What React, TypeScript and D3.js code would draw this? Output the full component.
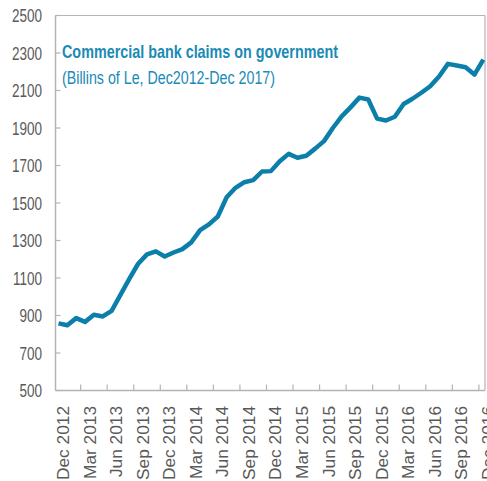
import * as d3 from 'd3'

// monthly observations, Dec 2012 .. Dec 2016 (billions of Le)
const months = [
  'Dec 2012', 'Jan 2013', 'Feb 2013', 'Mar 2013', 'Apr 2013', 'May 2013', 'Jun 2013',
  'Jul 2013', 'Aug 2013', 'Sep 2013', 'Oct 2013', 'Nov 2013', 'Dec 2013',
  'Jan 2014', 'Feb 2014', 'Mar 2014', 'Apr 2014', 'May 2014', 'Jun 2014',
  'Jul 2014', 'Aug 2014', 'Sep 2014', 'Oct 2014', 'Nov 2014', 'Dec 2014',
  'Jan 2015', 'Feb 2015', 'Mar 2015', 'Apr 2015', 'May 2015', 'Jun 2015',
  'Jul 2015', 'Aug 2015', 'Sep 2015', 'Oct 2015', 'Nov 2015', 'Dec 2015',
  'Jan 2016', 'Feb 2016', 'Mar 2016', 'Apr 2016', 'May 2016', 'Jun 2016',
  'Jul 2016', 'Aug 2016', 'Sep 2016', 'Oct 2016', 'Nov 2016', 'Dec 2016',
]

const claims = [
  858, 848, 886, 866, 904, 895, 925,
  1010, 1095, 1176, 1226, 1242, 1215,
  1236, 1254, 1290, 1355, 1386, 1428,
  1531, 1581, 1611, 1622, 1668, 1670,
  1723, 1762, 1741, 1752, 1790, 1830,
  1900, 1962, 2010, 2062, 2052, 1950,
  1940, 1960, 2028, 2056, 2088, 2123,
  2175, 2242, 2233, 2224, 2185, 2265,
]

const yTicks = [500, 700, 900, 1100, 1300, 1500, 1700, 1900, 2100, 2300, 2500]

const title = 'Commercial bank claims on government'
const subtitle = '(Billins of Le, Dec2012-Dec 2017)'

const W = 487
const H = 481
const left = 55.5
const right = 485
const top = 15.5
const bottom = 390.5

const axisColor = '#b4b4b4'
const labelColor = '#595959'
const lineColor = '#0b7fa9'
const titleColor = '#1a8ab6'
const font = '"Liberation Sans", Arial, sans-serif'

export default function App() {
  const x = d3.scalePoint<string>().domain(months).range([58.5, 483.3])
  const y = d3.scaleLinear().domain([500, 2500]).range([bottom, top])
  const step = x.step()

  const line = d3.line<number>()
    .x((_, i) => x(months[i]) as number)
    .y(d => y(d))

  // ticks sit between categories, every 3 months
  const tickIdx = d3.range(3, months.length, 3)
  const labelIdx = d3.range(0, months.length, 3)

  return (
    <svg width={W} height={H} style={{ position: 'absolute', left: 0, top: 0, background: '#fff' }}>
      {/* frame */}
      <line x1={left} x2={right} y1={top} y2={top} stroke={axisColor} strokeWidth={1.2} />
      <line x1={right} x2={right} y1={top} y2={bottom} stroke={axisColor} strokeWidth={1.2} />
      <line x1={left} x2={left} y1={top} y2={bottom} stroke={axisColor} strokeWidth={1.5} />
      <line x1={left} x2={right} y1={bottom} y2={bottom} stroke={axisColor} strokeWidth={1.5} />

      {yTicks.map(t => (
        <g key={t}>
          <line x1={left} x2={left + 5} y1={y(t)} y2={y(t)} stroke={axisColor} strokeWidth={1.2} />
          <text
            transform={`translate(42,${y(t)}) scale(0.73,1)`}
            textAnchor="end"
            dominantBaseline="central"
            fontFamily={font}
            fontSize={18.5}
            fill={labelColor}
          >
            {t}
          </text>
        </g>
      ))}

      {tickIdx.map(i => {
        const tx = (x(months[i]) as number) - step / 2
        return <line key={i} x1={tx} x2={tx} y1={bottom} y2={bottom - 6} stroke={axisColor} strokeWidth={1.2} />
      })}

      {labelIdx.map(i => {
        const lx = (x(months[i]) as number) + 4.5
        return (
          <text
            key={i}
            transform={`translate(${lx},406) rotate(-90)`}
            textAnchor="end"
            dominantBaseline="central"
            fontFamily={font}
            fontSize={17.3}
            fill={labelColor}
          >
            {months[i]}
          </text>
        )
      })}

      <text x={62} y={58} fontFamily={font} fontWeight="bold" fontSize={18.5} fill={titleColor}
        textLength={276} lengthAdjust="spacingAndGlyphs">
        {title}
      </text>
      <text x={62} y={83.5} fontFamily={font} fontSize={17.5} fill={titleColor}
        textLength={213} lengthAdjust="spacingAndGlyphs">
        {subtitle}
      </text>

      <path d={line(claims) ?? ''} fill="none" stroke={lineColor} strokeWidth={4.5}
        strokeLinejoin="round" strokeLinecap="butt" />
    </svg>
  )
}
